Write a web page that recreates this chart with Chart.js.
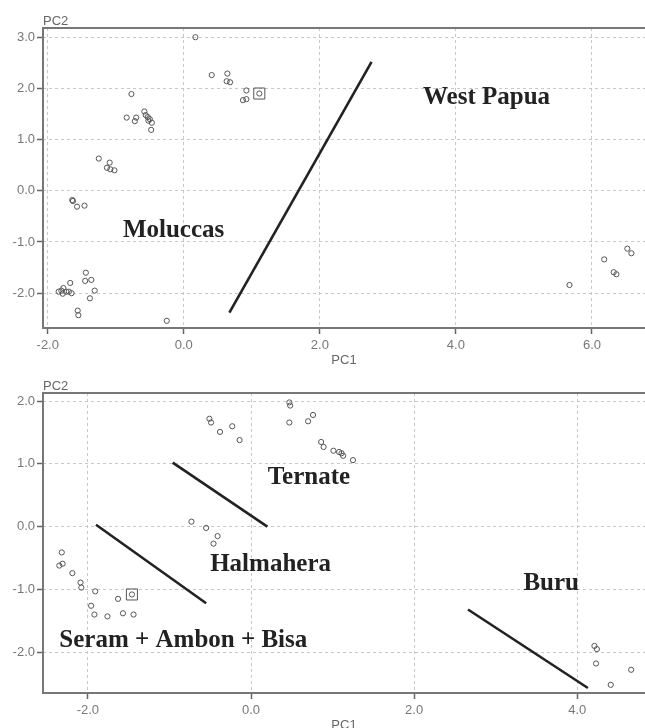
<!DOCTYPE html>
<html>
<head>
<meta charset="utf-8">
<script src="https://cdn.jsdelivr.net/npm/chart.js@4/dist/chart.umd.min.js"></script>
<style>
  html, body { margin: 0; padding: 0; background: #fff; overflow: hidden; width: 645px; height: 728px; }
  .wrap { position: absolute; left: 0; width: 645px; }
  canvas { display: block; }
</style>
</head>
<body>
<div class="wrap" style="top:0;height:372px;"><canvas id="c1" width="645" height="372"></canvas></div>
<div class="wrap" style="top:372px;height:356px;"><canvas id="c2" width="645" height="356"></canvas></div>
<script>
// ---------- Top panel data (PC1 / PC2) ----------
const topMoluccasPC1 = [0.17, 0.41, 0.64, 0.63, 0.68, 0.92, 0.87, 0.92, 1.11, -0.77, -0.84, -0.72, -0.70, -0.58, -0.56, -0.53, -0.52, -0.50, -0.47, -0.48,
  -1.25, -1.09, -1.13, -1.08, -1.02, -1.64, -1.63, -1.57, -1.46, -1.44, -1.45, -1.36, -1.31, -1.38, -1.67, -1.84, -1.80, -1.77, -1.78, -1.73, -1.69, -1.65, -1.56, -1.55, -0.25];
const topMoluccasPC2 = [3.00, 2.26, 2.29, 2.14, 2.12, 1.96, 1.77, 1.79, 1.90, 1.89, 1.43, 1.36, 1.43, 1.55, 1.48, 1.44, 1.37, 1.40, 1.33, 1.19,
  0.63, 0.55, 0.45, 0.42, 0.40, -0.18, -0.20, -0.31, -0.29, -1.60, -1.76, -1.74, -1.95, -2.10, -1.80, -1.97, -1.95, -1.90, -2.01, -1.97, -1.97, -2.00, -2.34, -2.43, -2.54];
const topWestPapuaPC1 = [5.67, 6.18, 6.32, 6.36, 6.52, 6.58];
const topWestPapuaPC2 = [-1.84, -1.34, -1.59, -1.63, -1.13, -1.22];
const topRefPC1 = [1.11];
const topRefPC2 = [1.90];
const topLinePC1 = [0.67, 2.76];
const topLinePC2 = [-2.38, 2.52];
const topXTicks = [-2, 0, 2, 4, 6];
const topYTicks = [-2, -1, 0, 1, 2, 3];
const topLabels = ["Moluccas", "West Papua"];
const topLabelPC1 = [-0.15, 4.45];
const topLabelPC2 = [-0.78, 1.83];

// ---------- Bottom panel data ----------
const ternatePC1 = [-0.51, -0.49, -0.38, -0.23, -0.14, 0.47, 0.48, 0.47, 0.70, 0.76, 0.86, 0.89, 1.01, 1.08, 1.11, 1.13, 1.25];
const ternatePC2 = [1.72, 1.66, 1.51, 1.60, 1.38, 1.98, 1.93, 1.66, 1.68, 1.78, 1.35, 1.27, 1.21, 1.19, 1.17, 1.13, 1.06];
const halmaheraPC1 = [-0.73, -0.55, -0.41, -0.46];
const halmaheraPC2 = [0.08, -0.02, -0.15, -0.27];
const seramPC1 = [-2.32, -2.35, -2.31, -2.19, -2.09, -2.08, -1.91, -1.96, -1.92, -1.76, -1.63, -1.57, -1.44, -1.46];
const seramPC2 = [-0.41, -0.62, -0.59, -0.74, -0.89, -0.97, -1.03, -1.26, -1.40, -1.43, -1.15, -1.38, -1.40, -1.08];
const buruPC1 = [4.21, 4.24, 4.23, 4.41, 4.66];
const buruPC2 = [-1.90, -1.95, -2.18, -2.52, -2.28];
const botRefPC1 = [-1.46];
const botRefPC2 = [-1.08];
const botLine1PC1 = [-0.96, 0.20];
const botLine1PC2 = [1.02, 0.00];
const botLine2PC1 = [-1.90, -0.55];
const botLine2PC2 = [0.03, -1.22];
const botLine3PC1 = [2.66, 4.13];
const botLine3PC2 = [-1.32, -2.57];
const botXTicks = [-2, 0, 2, 4];
const botYTicks = [-2, -1, 0, 1, 2];
const botLabels = ["Ternate", "Halmahera", "Seram + Ambon + Bisa", "Buru"];
const botLabelPC1 = [0.71, 0.24, -0.83, 3.68];
const botLabelPC2 = [0.79, -0.60, -1.82, -0.91];

// ---------- helpers ----------
const pts = (xs, ys) => xs.map((x, i) => ({ x: x, y: ys[i] }));
const AXIS_GREY = '#777';
const TICK_FONT = { family: '"Liberation Sans", Arial, sans-serif', size: 13 };

function pointSet(xs, ys) {
  return { type: 'scatter', data: pts(xs, ys), pointStyle: 'circle', pointRadius: 2.6,
    borderColor: '#555', borderWidth: 1, backgroundColor: 'rgba(0,0,0,0)', showLine: false };
}
function refSet(xs, ys) {
  return { type: 'scatter', data: pts(xs, ys), pointStyle: 'rect', pointRadius: 7.8,
    borderColor: '#555', borderWidth: 1, backgroundColor: 'rgba(0,0,0,0)', showLine: false };
}
function lineSet(xs, ys) {
  return { type: 'line', data: pts(xs, ys), borderColor: '#222', borderWidth: 2.6,
    pointRadius: 0, fill: false, tension: 0 };
}

const framePlugin = {
  id: 'frame',
  afterDraw(chart) {
    const a = chart.chartArea, ctx = chart.ctx;
    ctx.save();
    ctx.strokeStyle = AXIS_GREY;
    ctx.lineWidth = 2;
    ctx.beginPath();
    ctx.moveTo(chart.width + 2, a.top); ctx.lineTo(a.left, a.top);
    ctx.lineTo(a.left, a.bottom); ctx.lineTo(chart.width + 2, a.bottom);
    ctx.stroke();
    // axis titles
    ctx.fillStyle = '#666';
    ctx.font = '13px "Liberation Sans", Arial, sans-serif';
    ctx.textBaseline = 'middle';
    ctx.textAlign = 'left';
    ctx.fillText('PC2', a.left, a.top - 7);
    ctx.textAlign = 'center';
    ctx.fillText('PC1', (a.left + a.right) / 2, a.bottom + 32);
    ctx.restore();
  }
};

const regionLabelPlugin = {
  id: 'regionLabels',
  afterDatasetsDraw(chart, args, opts) {
    const ctx = chart.ctx, xs = chart.scales.x, ys = chart.scales.y;
    ctx.save();
    ctx.fillStyle = '#222';
    ctx.font = 'bold 25px "Liberation Serif", "Times New Roman", serif';
    ctx.textAlign = 'center';
    ctx.textBaseline = 'middle';
    opts.texts.forEach((t, i) => {
      ctx.fillText(t, xs.getPixelForValue(opts.px[i]), ys.getPixelForValue(opts.py[i]));
    });
    ctx.restore();
  }
};

function makeChart(id, datasets, cfg) {
  return new Chart(document.getElementById(id), {
    type: 'scatter',
    data: { datasets: datasets },
    options: {
      responsive: false,
      animation: false,
      events: [],
      layout: { autoPadding: false, padding: { top: cfg.padTop, left: 0, right: 0, bottom: 0 } },
      plugins: {
        legend: { display: false },
        tooltip: { enabled: false },
        regionLabels: { texts: cfg.labels, px: cfg.labelX, py: cfg.labelY }
      },
      scales: {
        x: {
          type: 'linear', position: 'bottom', min: cfg.xMin, max: cfg.xMax,
          afterBuildTicks: s => { s.ticks = cfg.xTicks.map(v => ({ value: v })); },
          afterFit: s => { s.height = cfg.xHeight; s.paddingLeft = 0; s.paddingRight = 0; },
          ticks: { font: TICK_FONT, color: '#777', padding: 4, maxRotation: 0, autoSkip: false,
            callback: v => Number(v).toFixed(1) },
          grid: { color: '#c8c8c8', lineWidth: 1, drawTicks: true, tickLength: 6,
            tickColor: '#666', tickWidth: 1.5, tickBorderDash: [] },
          border: { display: false, dash: [3, 3] }
        },
        y: {
          type: 'linear', position: 'left', min: cfg.yMin, max: cfg.yMax,
          afterBuildTicks: s => { s.ticks = cfg.yTicks.map(v => ({ value: v })); },
          afterFit: s => { s.width = 43; },
          ticks: { font: TICK_FONT, color: '#777', padding: 2, autoSkip: false,
            callback: v => Number(v).toFixed(1) },
          grid: { color: '#c8c8c8', lineWidth: 1, drawTicks: true, tickLength: 6,
            tickColor: '#666', tickWidth: 1.5, tickBorderDash: [] },
          border: { display: false, dash: [3, 3] }
        }
      }
    },
    plugins: [framePlugin, regionLabelPlugin]
  });
}

makeChart('c1', [
  lineSet(topLinePC1, topLinePC2),
  pointSet(topMoluccasPC1, topMoluccasPC2),
  pointSet(topWestPapuaPC1, topWestPapuaPC2),
  refSet(topRefPC1, topRefPC2)
], {
  padTop: 28, xHeight: 44,
  xMin: -2.07, xMax: 6.78, yMin: -2.68, yMax: 3.18,
  xTicks: topXTicks, yTicks: topYTicks,
  labels: topLabels, labelX: topLabelPC1, labelY: topLabelPC2
});

makeChart('c2', [
  lineSet(botLine1PC1, botLine1PC2),
  lineSet(botLine2PC1, botLine2PC2),
  lineSet(botLine3PC1, botLine3PC2),
  pointSet(ternatePC1, ternatePC2),
  pointSet(halmaheraPC1, halmaheraPC2),
  pointSet(seramPC1, seramPC2),
  pointSet(buruPC1, buruPC2),
  refSet(botRefPC1, botRefPC2)
], {
  padTop: 21, xHeight: 35,
  xMin: -2.55, xMax: 4.83, yMin: -2.65, yMax: 2.13,
  xTicks: botXTicks, yTicks: botYTicks,
  labels: botLabels, labelX: botLabelPC1, labelY: botLabelPC2
});
</script>
</body>
</html>
